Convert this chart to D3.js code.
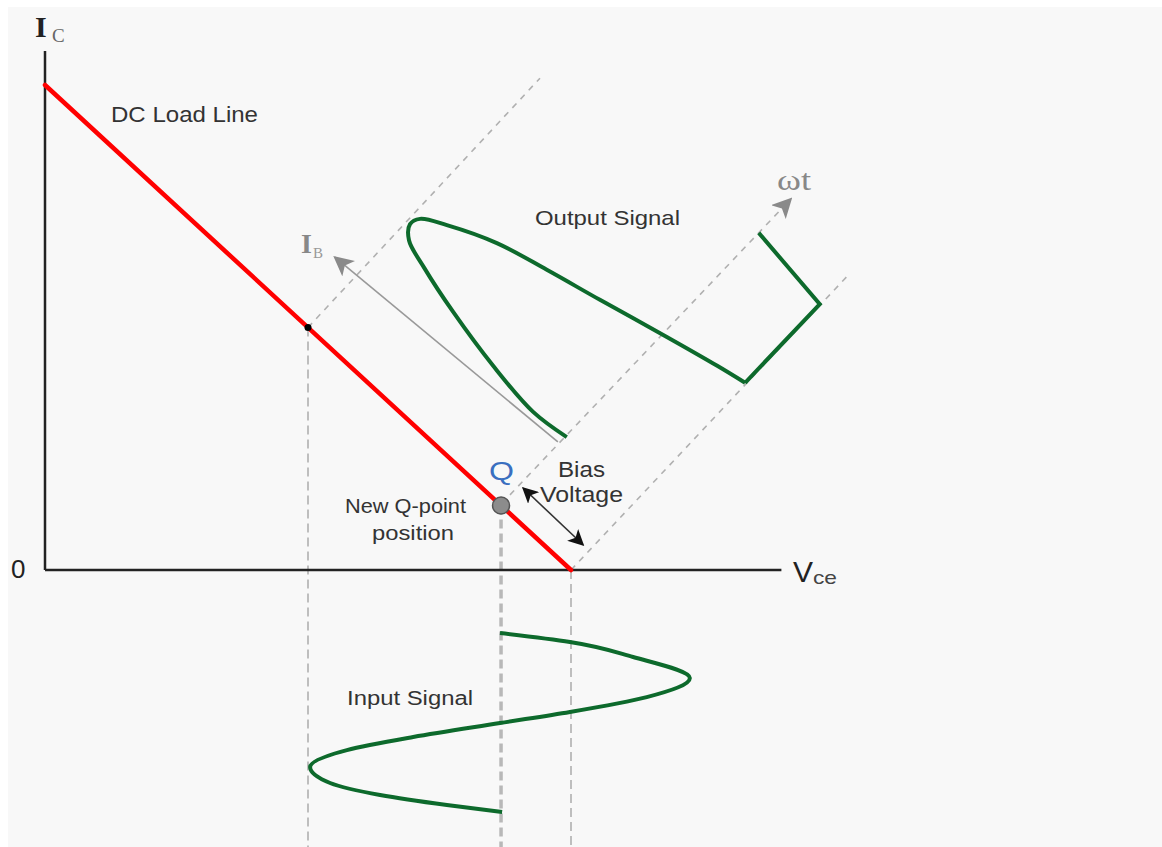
<!DOCTYPE html>
<html><head><meta charset="utf-8">
<script src="https://cdn.jsdelivr.net/npm/d3@7"></script>
<style>html,body{margin:0;padding:0;background:#fff;}svg{display:block;}</style>
</head><body>
<script>
// ---- data (Vce in V, Ic in mA, t in periods) ----
const vceMax = 14, icMax = 10.7;
const loadLine = [[0, 10], [10, 0]];            // DC load line endpoints
const midPoint = [5, 5];                         // upper operating point
const qPoint = [8.67, 1.33];                     // new Q-point
const diagLines = [                              // dashed guide lines
  [[5, 5], [9.41, 10.14]],
  [[8.84, 1.55], [14.18, 7.65]],
  [[10, 0], [15.27, 6.08]]
];
const vGuides = [[5, 5], [8.67, 1.33], [10, 0]]; // vertical dashed guides
const ibArrow = [[9.75, 2.64], [5.51, 6.45]];
const biasArrow = [[9.09, 1.69], [10.23, 0.52]];
const outputCurve = [[9.92,2.74],[9.28,3.26],[8.52,4.21],[7.76,5.32],[7.21,6.23],[6.92,6.80],[6.94,7.13],[7.13,7.24],[7.64,7.11],[8.59,6.74],[9.54,6.19],[10.55,5.57],[11.83,4.80],[12.78,4.21],[13.31,3.86]];
const outputTail = [[13.31,3.86],[14.73,5.48],[13.57,6.95]];
const inputSignal = [[8.65,0],[9.98,0.05],[11.18,0.134],[12.26,0.251],[11.44,0.358],[9.98,0.441],[8.65,0.503],[7.00,0.581],[5.74,0.654],[5.04,0.749],[5.42,0.838],[6.37,0.905],[7.64,0.961],[8.69,1.0]];
const labels = {dc: "DC Load Line", out: "Output Signal", inp: "Input Signal", q: "Q", bias1: "Bias", bias2: "Voltage", newq1: "New Q-point", newq2: "position", zero: "0"};

const W = 1162, H = 847;
const x = d3.scaleLinear().domain([0, 10]).range([45, 571]);
const y = d3.scaleLinear().domain([0, 10]).range([570, 85]);
const t = d3.scaleLinear().domain([0, 1]).range([633, 812]);

const svg = d3.select("body").append("svg").attr("width", W).attr("height", H);
svg.append("rect").attr("x", 0).attr("y", 0).attr("width", W).attr("height", H).attr("fill", "#ffffff");
svg.append("rect").attr("x", 8).attr("y", 7).attr("width", W).attr("height", H).attr("fill", "#f8f8f8");

const defs = svg.append("defs");
function marker(id, color, size) {
  defs.append("marker").attr("id", id).attr("viewBox", "0 0 10 10").attr("refX", 9).attr("refY", 5)
    .attr("markerWidth", size).attr("markerHeight", size).attr("markerUnits", "userSpaceOnUse")
    .attr("orient", "auto-start-reverse")
    .append("path").attr("d", "M0,0 L10,5 L0,10 L2.5,5 Z").attr("fill", color);
}
marker("gray", "#8a8a8a", 20);
marker("black", "#111", 16);

const line = d3.line().x(d => x(d[0])).y(d => y(d[1]));

// vertical dashed guides
vGuides.forEach((g, i) => {
  svg.append("line").attr("x1", x(g[0])).attr("x2", x(g[0])).attr("y1", y(g[1])).attr("y2", H)
    .attr("stroke", i === 1 ? "#b8b8b8" : "#aaaaaa").attr("stroke-width", i === 1 ? 3.5 : 1.5)
    .attr("stroke-dasharray", "9,5");
});

// diagonal dashed guides
diagLines.forEach((d, i) => {
  svg.append("path").attr("d", line(d)).attr("fill", "none").attr("stroke", "#b0b0b0")
    .attr("stroke-width", 1.6).attr("stroke-dasharray", "6,6")
    .attr("marker-end", i === 1 ? "url(#gray)" : null);
});

// axes
svg.append("line").attr("x1", x(0)).attr("x2", x(0)).attr("y1", y(icMax)).attr("y2", y(0))
  .attr("stroke", "#222").attr("stroke-width", 2.5);
svg.append("line").attr("x1", x(0)).attr("x2", x(vceMax)).attr("y1", y(0)).attr("y2", y(0))
  .attr("stroke", "#222").attr("stroke-width", 2.5);

// IB arrow
svg.append("path").attr("d", line(ibArrow)).attr("stroke", "#999").attr("stroke-width", 1.6)
  .attr("fill", "none").attr("marker-end", "url(#gray)");

// load line
svg.append("path").attr("d", line(loadLine)).attr("stroke", "#ff0000").attr("stroke-width", 4.5)
  .attr("fill", "none").attr("stroke-linecap", "round");

// bias arrow
svg.append("path").attr("d", line(biasArrow)).attr("stroke", "#333").attr("stroke-width", 1.6)
  .attr("fill", "none").attr("marker-end", "url(#black)").attr("marker-start", "url(#black)");

// output signal
const green = "#0d6a2c";
svg.append("path").attr("d", line.curve(d3.curveCatmullRom.alpha(0.5))(outputCurve))
  .attr("fill", "none").attr("stroke", green).attr("stroke-width", 4);
line.curve(d3.curveLinear);
svg.append("path").attr("d", line(outputTail)).attr("fill", "none").attr("stroke", green)
  .attr("stroke-width", 4).attr("stroke-linejoin", "miter");

// input signal
const inLine = d3.line().x(d => x(d[0])).y(d => t(d[1])).curve(d3.curveMonotoneY);
svg.append("path").attr("d", inLine(inputSignal)).attr("fill", "none").attr("stroke", green).attr("stroke-width", 4);

// points
svg.append("circle").attr("cx", x(midPoint[0])).attr("cy", y(midPoint[1])).attr("r", 3.5).attr("fill", "#000");
svg.append("circle").attr("cx", x(qPoint[0])).attr("cy", y(qPoint[1])).attr("r", 8.5)
  .attr("fill", "#8c8c8c").attr("stroke", "#555").attr("stroke-width", 1.5);

// text
const sans = "Liberation Sans, Arial, sans-serif";
const serif = "Liberation Serif, Times New Roman, serif";
function txt(s, px, py, size, fill, fam, len) {
  const e = svg.append("text").attr("x", px).attr("y", py).attr("font-size", size).attr("fill", fill)
    .attr("font-family", fam || sans).text(s);
  if (len) e.attr("textLength", len).attr("lengthAdjust", "spacingAndGlyphs");
  return e;
}
// Ic label
txt("I", 35, 37, 30, "#222", serif).attr("font-weight", "bold");
txt("C", 52, 42, 19, "#666", serif);
txt(labels.dc, 111, 122, 22, "#333", sans, 147);
txt(labels.out, 535, 225, 21, "#333", sans, 145);
// omega t
txt("ωt", 777, 190, 30, "#888", serif, 34);
// IB
txt("I", 301, 253, 28, "#888", serif).attr("font-weight", "bold");
txt("B", 313, 258, 15, "#999", serif);
txt(labels.q, 489, 480, 25, "#3a6fc0", sans, 25);
txt(labels.bias1, 558, 477, 22, "#333", sans, 47);
txt(labels.bias2, 540, 502, 22, "#333", sans, 83);
txt(labels.newq1, 345, 513, 20, "#333", sans, 121);
txt(labels.newq2, 372, 540, 20, "#333", sans, 82);
txt(labels.zero, 11, 578, 26, "#222", sans);
txt("V", 793, 582, 30, "#222", sans, 20);
txt("ce", 813, 584, 19, "#444", sans, 24);
txt(labels.inp, 347, 705, 20, "#333", sans, 126);
</script>
</body></html>
